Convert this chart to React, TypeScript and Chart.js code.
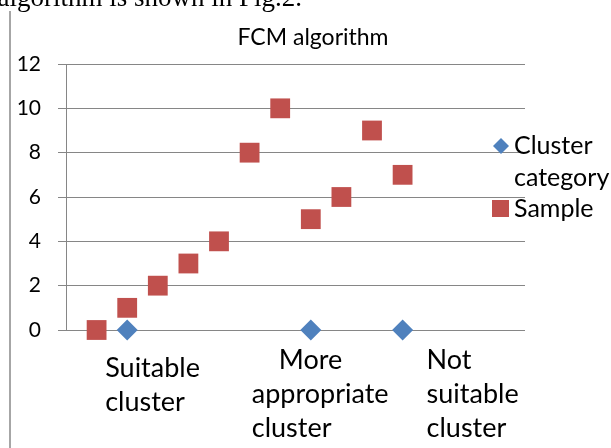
import React, { useEffect, useRef } from "react";
import { Chart, registerables } from "chart.js";

Chart.register(...registerables);

// ---- data ----
const sampleIndex = [1, 2, 3, 4, 5, 6, 7, 8, 9, 10, 11];
const sampleValues = [0, 1, 2, 3, 4, 8, 10, 5, 6, 9, 7];
const clusterIndex = [2, 8, 11];
const clusterValues = [0, 0, 0];
const clusterLabels = [
  ["Suitable", "cluster"],
  ["More", "appropriate", "cluster"],
  ["Not", "suitable", "cluster"],
];
const yTicks = [0, 2, 4, 6, 8, 10, 12];
const titleText = "FCM algorithm";
const seriesNames = ["Cluster category", "Sample"];
const topText = "algorithm is shown in Fig.2.";

// ---- styles ----
const FONT = 'Lato, "Open Sans", sans-serif';
const BLUE = "#4F81BD";
const RED = "#C0504D";
const GRID = "#868686";

// per-label line layout (offset from category pixel, baseline y)
const labelLayout = [
  [
    { dx: -22, y: 377 },
    { dx: -22, y: 411 },
  ],
  [
    { dx: -32, y: 369 },
    { dx: -59, y: 403 },
    { dx: -59, y: 437 },
  ],
  [
    { dx: 24, y: 369 },
    { dx: 24, y: 403 },
    { dx: 24, y: 437 },
  ],
];

function diamond(ctx: CanvasRenderingContext2D, x: number, y: number, r: number) {
  ctx.beginPath();
  ctx.moveTo(x - r, y);
  ctx.lineTo(x, y - r);
  ctx.lineTo(x + r, y);
  ctx.lineTo(x, y + r);
  ctx.closePath();
  ctx.fill();
}

const decor = {
  id: "decor",
  beforeDraw(chart: any) {
    const ctx = chart.ctx as CanvasRenderingContext2D;
    ctx.save();
    ctx.fillStyle = "#ffffff";
    ctx.fillRect(0, 0, chart.width, chart.height);
    // page border line
    ctx.strokeStyle = "#a6a6a6";
    ctx.lineWidth = 2;
    ctx.beginPath();
    ctx.moveTo(10, 11);
    ctx.lineTo(10, chart.height);
    ctx.stroke();
    // cut-off document text
    ctx.fillStyle = "#000";
    ctx.font = '27px "Liberation Serif", serif';
    ctx.textAlign = "right";
    ctx.textBaseline = "alphabetic";
    ctx.fillText(topText, 302, 6);
    ctx.restore();
  },
  afterDraw(chart: any) {
    const ctx = chart.ctx as CanvasRenderingContext2D;
    const xs = chart.scales.x;
    ctx.save();
    ctx.fillStyle = "#000";
    // title
    ctx.font = `23px ${FONT}`;
    ctx.textAlign = "center";
    ctx.textBaseline = "middle";
    ctx.fillText(titleText, 313, 38);
    // category labels
    ctx.font = `27px ${FONT}`;
    ctx.textAlign = "left";
    ctx.textBaseline = "alphabetic";
    clusterLabels.forEach((lines, i) => {
      const px = xs.getPixelForValue(clusterIndex[i]);
      lines.forEach((ln, j) => {
        const l = labelLayout[i][j];
        ctx.fillText(ln, px + l.dx, l.y);
      });
    });
    // legend
    ctx.font = `25px ${FONT}`;
    ctx.textBaseline = "middle";
    ctx.fillStyle = BLUE;
    diamond(ctx, 501, 146, 8);
    ctx.fillStyle = RED;
    ctx.fillRect(492, 200, 17, 17);
    ctx.fillStyle = "#000";
    const nm = seriesNames[0].split(" ");
    ctx.fillText(nm[0], 514, 146);
    ctx.fillText(nm[1], 514, 178);
    ctx.fillText(seriesNames[1], 514, 209);
    ctx.restore();
  },
};

export default function App() {
  const ref = useRef<HTMLCanvasElement>(null);
  useEffect(() => {
    if (!ref.current) return;
    const chart = new Chart(ref.current, {
      type: "scatter",
      data: {
        datasets: [
          {
            label: seriesNames[1],
            data: sampleIndex.map((x, i) => ({ x, y: sampleValues[i] })),
            pointStyle: "rect",
            radius: 14,
            backgroundColor: RED,
            borderColor: RED,
            borderWidth: 0,
            clip: false as any,
          },
          {
            label: seriesNames[0],
            data: clusterIndex.map((x, i) => ({ x, y: clusterValues[i] })),
            pointStyle: "rectRot",
            radius: 10.5,
            backgroundColor: BLUE,
            borderColor: BLUE,
            borderWidth: 0,
            clip: false as any,
          },
        ],
      },
      options: {
        responsive: false,
        animation: false,
        events: [],
        layout: { padding: { left: 0, right: 86, top: 64, bottom: 118 } },
        plugins: {
          legend: { display: false },
          title: { display: false },
          tooltip: { enabled: false },
        },
        scales: {
          x: { type: "linear", min: 0, max: 15, display: false },
          y: {
            type: "linear",
            min: 0,
            max: 12,
            afterFit: (s: any) => {
              s.width = 66;
            },
            afterBuildTicks: (s: any) => {
              s.ticks = yTicks.map((v) => ({ value: v }));
            },
            ticks: {
              padding: 17,
              color: "#000",
              font: { family: FONT, size: 21 },
            },
            grid: { color: GRID, lineWidth: 1, tickLength: 8, drawTicks: true },
            border: { display: true, color: GRID, width: 1 },
          },
        },
      },
      plugins: [decor],
    });
    return () => chart.destroy();
  }, []);
  return (
    <div style={{ position: "fixed", left: 0, top: 0, width: 611, height: 448 }}>
      <canvas ref={ref} width={611} height={448} style={{ display: "block" }} />
    </div>
  );
}
